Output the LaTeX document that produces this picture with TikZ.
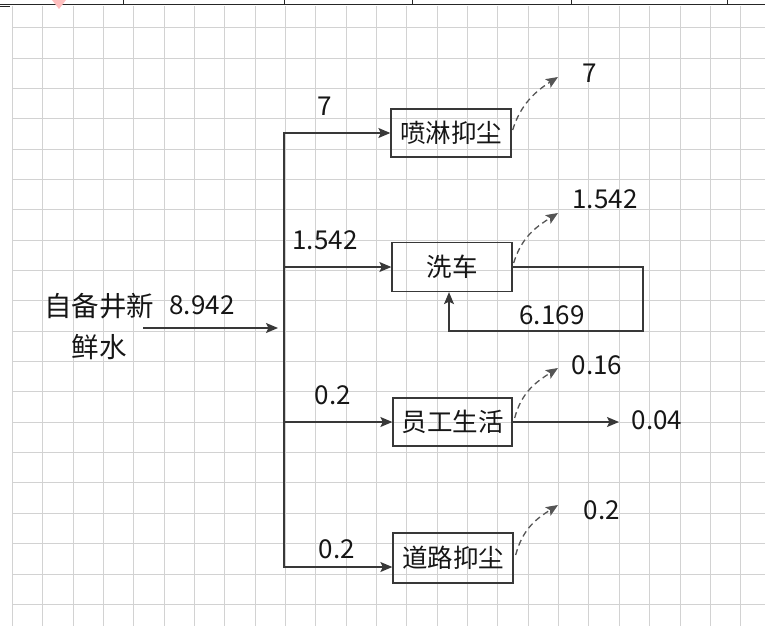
\documentclass[tikz,border=0pt]{standalone}
\usepackage{fontspec}
\setmainfont{Noto Sans CJK SC}
\usetikzlibrary{arrows.meta,calc}
\definecolor{gridc}{HTML}{D2D2D2}
\definecolor{linec}{HTML}{383838}
\definecolor{dashc}{HTML}{555555}
\definecolor{txt}{HTML}{161616}
\begin{document}
\begin{tikzpicture}[x=1pt,y=-1pt,
  box/.style={draw=linec, line width=1.3pt, minimum width=120pt, minimum height=48pt, inner sep=0pt, font=\fontsize{25.5}{28}\selectfont, text=txt},
  num/.style={font=\fontsize{26}{30}\selectfont, text=txt, inner sep=0pt},
  flow/.style={draw=linec, line width=1.3pt, -{Stealth[length=12pt,width=10pt,inset=2.5pt]}},
  dflow/.style={draw=dashc, line width=1.3pt, dash pattern=on 6pt off 4pt, -{Stealth[length=12pt,width=10pt,inset=2.5pt]}},
  gridline/.style={draw=gridc, line width=1pt}
]
\useasboundingbox (0,0) rectangle (765,626);
\fill[white] (0,0) rectangle (765,626);
% grid
\foreach \i in {0,...,24} \draw[gridline] (12.3+\i*30.35,6) -- (12.3+\i*30.35,626);
\foreach \j in {0,...,19} \draw[gridline] (12,27.7+\j*30.35) -- (765,27.7+\j*30.35);
% top table line
\draw[black!85, line width=1.4pt] (0,4.5) -- (765,4.5);
\foreach \x in {123,284,412,571,727} \draw[black!85, line width=1pt] (\x,0) -- (\x,4.5);
\draw[black!85, line width=1.4pt] (0,6.5) -- (10,6.5);
\fill[red!25] (52,0) -- (66,0) -- (59,9) -- cycle;

% boxes
\node[box] (b1) at (451,133) {喷淋抑尘};
\node[box, minimum height=49pt] (b2) at (452,267) {洗车};
\node[box, minimum width=119pt] (b3) at (452.5,422) {员工生活};
\node[box, minimum height=50pt] (b4) at (453,558) {道路抑尘};

% source
\node[font=\fontsize{27.5}{41}\selectfont, text=txt, align=center, inner sep=0pt] (src) at (99,327) {自备井新\\鲜水};
\coordinate (s0) at (143,328);
\coordinate (s1) at (278,328);
\draw[flow] (s0) -- (s1);
\node[num] (n0) at (202,305) {8.942};

% trunk
\coordinate (j1) at (284,133);
\coordinate (j2) at (284,267);
\coordinate (j3) at (284,422);
\coordinate (j4) at (284,567);
\draw[flow] (j2) -- (j1) -- (b1.west);
\draw[flow] (j2) -- (j4) -- (j4 -| b4.west);
\draw[flow] (j2) -- (b2.west);
\draw[flow] (j3) -- (b3.west);

\node[num] (l1) at (325,106) {7};
\node[num] (l2) at (325,240) {1.542};
\node[num] (l3) at (333,395) {0.2};
\node[num] (l4) at (337,549) {0.2};

% recycle loop
\coordinate (r1) at (643,331);
\coordinate (r2) at (449,331);
\draw[flow] (b2.east) -| (r1) -- (r2) -- (r2 |- b2.south);
\node[num] (l5) at (552,315) {6.169};

% outputs
\coordinate (t1) at (558,77);
\coordinate (t2) at (558,213);
\coordinate (t3) at (558,368);
\coordinate (t4) at (558,505);
\draw[dflow] ($(b1.east)+(1,-3)$) .. controls +(8,-26) and +(-22,14) .. (t1);
\draw[dflow] ($(b2.east)+(1,-4)$) .. controls +(8,-26) and +(-22,14) .. (t2);
\draw[dflow] ($(b3.east)+(2,-4)$) .. controls +(7,-26) and +(-22,14) .. (t3);
\draw[dflow] ($(b4.east)+(2,-3)$) .. controls +(7,-26) and +(-22,14) .. (t4);
\node[num] (o1) at (590,73) {7};
\node[num] (o2) at (605,199) {1.542};
\node[num] (o3) at (597,365) {0.16};
\node[num] (o4) at (602,510) {0.2};
\coordinate (e3) at (619,422);
\draw[flow] (b3.east) -- (e3);
\node[num] (o5) at (657,420) {0.04};
\end{tikzpicture}
\end{document}
